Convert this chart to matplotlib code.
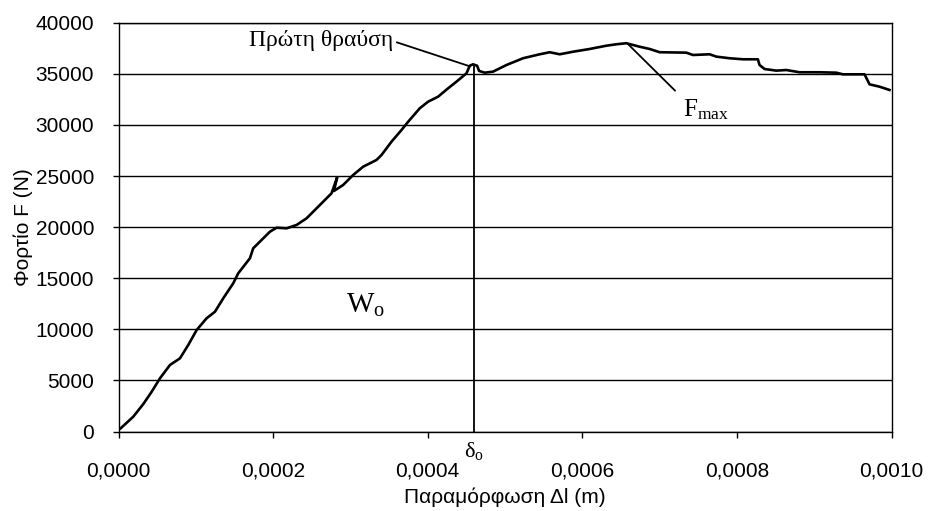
import numpy as np
import matplotlib
matplotlib.use("Agg")
import matplotlib.pyplot as plt
from matplotlib.ticker import FuncFormatter, MultipleLocator

# load-deformation curve
deform = [0.0000028, 0.0000191, 0.0000321, 0.0000429, 0.0000537, 0.0000666, 0.0000795,
          0.0000902, 0.0001011, 0.0001140, 0.0001248, 0.0001355, 0.0001484, 0.0001549,
          0.0001700, 0.0001743, 0.0001851, 0.0001959, 0.0002045, 0.0002175, 0.0002304,
          0.0002433, 0.0002605, 0.0002756, 0.0002829, 0.0002786, 0.0002906, 0.0003036,
          0.0003165, 0.0003338, 0.0003403, 0.0003532, 0.0003661, 0.0003747, 0.0003898,
          0.0004005, 0.0004134, 0.0004264, 0.0004372, 0.0004502, 0.0004544, 0.0004587,
          0.0004639, 0.0004665, 0.0004738, 0.0004845, 0.0005019, 0.0005233, 0.0005449,
          0.0005578, 0.0005708, 0.0005880, 0.0006096, 0.0006312, 0.0006441, 0.0006570,
          0.0006742, 0.0006871, 0.0007001, 0.0007346, 0.0007431, 0.0007647, 0.0007734,
          0.0007906, 0.0008078, 0.0008271, 0.0008293, 0.0008358, 0.0008509, 0.0008639,
          0.0008811, 0.0009069, 0.0009285, 0.0009371, 0.0009651, 0.0009716, 0.0009845,
          0.0009974]
force = [310, 1450, 2690, 3890, 5210, 6510, 7160, 8460, 9930, 11080, 11720, 13030,
         14500, 15480, 16950, 17930, 18740, 19550, 19940, 19880, 20210, 20860, 22160,
         23310, 24870, 23530, 24120, 25100, 25910, 26570, 27060, 28360, 29500, 30310,
         31630, 32270, 32760, 33580, 34230, 35050, 35790, 35930, 35790, 35280, 35110,
         35210, 35860, 36520, 36910, 37110, 36910, 37160, 37430, 37750, 37890, 37990,
         37650, 37430, 37110, 37070, 36840, 36910, 36680, 36520, 36420, 36420, 35860,
         35470, 35310, 35370, 35150, 35150, 35110, 34950, 34950, 33970, 33740, 33420]

delta0 = 0.00046
first_crack = 35900
fmax_x, fmax_y = 0.000658, 37990

plt.rcParams['font.family'] = ['Liberation Sans', 'DejaVu Sans']
plt.rcParams['mathtext.fontset'] = 'custom'
plt.rcParams['mathtext.rm'] = 'Liberation Serif'
plt.rcParams['mathtext.it'] = 'Liberation Serif'

fig = plt.figure(figsize=(9.3, 5.11), dpi=100)
ax = fig.add_axes([118.5 / 930, 1 - 431.5 / 511, (891.5 - 118.5) / 930, (431.5 - 22.7) / 511])

ax.grid(True, axis='y', color='black', linewidth=1.0)
ax.set_axisbelow(True)
ax.plot(deform, force, color='black', linewidth=1.9)
ax.vlines(delta0, 0, first_crack, color='black', linewidth=1.3)

ax.set_xlim(0, 0.001)
ax.set_ylim(0, 40000)
ax.xaxis.set_major_locator(MultipleLocator(0.0002))
ax.yaxis.set_major_locator(MultipleLocator(5000))
ax.xaxis.set_major_formatter(FuncFormatter(lambda v, p: f'{v:.4f}'.replace('.', ',')))
ax.yaxis.set_major_formatter(FuncFormatter(lambda v, p: f'{v:.0f}'))
ax.tick_params(axis='x', direction='out', length=4.5, width=1, labelsize=15, pad=17, color='black')
ax.tick_params(axis='y', direction='out', length=4.5, width=1, labelsize=15, pad=13, color='black')
for s in ax.spines.values():
    s.set_linewidth(1.0)
    s.set_color('black')

ax.set_xlabel('Παραμόρφωση Δl (m)', fontsize=15, labelpad=5)
ax.set_ylabel('Φορτίο F (N)', fontsize=15, labelpad=2)

# annotations
serif = 'Liberation Serif'
ax.text(0.000355, 38300, 'Πρώτη θραύση', family=serif, fontsize=17, ha='right', va='center')
ax.annotate('', xy=(0.000455, 35720), xytext=(0.00036, 38080),
            arrowprops=dict(arrowstyle='-', color='black', lw=1.3, shrinkA=0, shrinkB=0))
ax.annotate('', xy=(fmax_x, fmax_y), xytext=(0.00072, 33350),
            arrowprops=dict(arrowstyle='-', color='black', lw=1.3, shrinkA=0, shrinkB=0))
ax.text(0.00073, 31500, r'$\mathrm{F}_{\mathrm{max}}$', fontsize=18, ha='left', va='center')
ax.text(0.00032, 12400, r'$\mathrm{W}_{\mathrm{o}}$', fontsize=21, ha='center', va='center')
ax.text(delta0, -1900, r'$\mathrm{δ}_{\mathrm{o}}$', fontsize=16, ha='center', va='center', clip_on=False)

plt.savefig('out.png', dpi=100)
